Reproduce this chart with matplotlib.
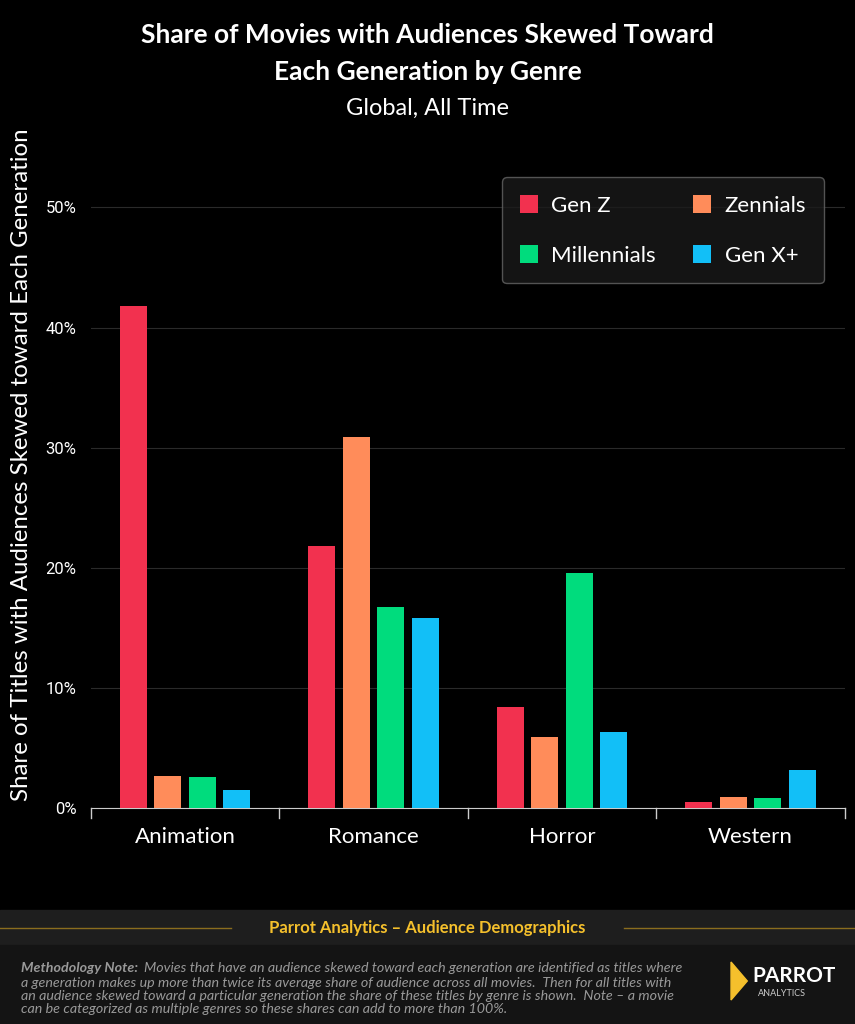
import matplotlib
matplotlib.use("Agg")
import matplotlib.pyplot as plt
import numpy as np
from matplotlib.patches import Rectangle, Polygon

genres = ["Animation", "Romance", "Horror", "Western"]
series = ["Gen Z", "Zennials", "Millennials", "Gen X+"]
gen_z = [41.8, 21.8, 8.4, 0.5]
zennials = [2.7, 30.9, 5.9, 0.9]
millennials = [2.6, 16.7, 19.6, 0.8]
gen_x = [1.5, 15.8, 6.3, 3.2]
yticks = [0, 10, 20, 30, 40, 50]
colors = ["#f2314f", "#ff8c5a", "#00dc7d", "#12bff7"]

plt.rcParams['font.family'] = ['Lato', 'DejaVu Sans']
fig = plt.figure(figsize=(8.55, 10.24), dpi=100, facecolor="black")
ax = fig.add_axes([0.106, 0.211, 0.882, 0.645], facecolor="black")
x = np.arange(len(genres))
w = 0.144
step = 0.183
handles = []
for i, (vals, c, lab) in enumerate(zip([gen_z, zennials, millennials, gen_x], colors, series)):
    handles.append(ax.bar(x + (i - 1.5) * step, vals, width=w, color=c, label=lab, zorder=3))
ax.set_xlim(-0.5, 3.5)
ax.set_ylim(0, 55)
ax.set_yticks(yticks)
ax.set_yticklabels([f"{t}%" for t in yticks], color="white", fontsize=12, family=["Roboto", "DejaVu Sans"])
ax.grid(axis="y", color="#2a2a2a", linewidth=0.8, zorder=0)
ax.set_xticks(x)
ax.set_xticklabels(genres, color="white", fontsize=16)
ax.tick_params(axis="x", length=0, pad=14)
ax.tick_params(axis="y", length=0, pad=10)
for b in [-0.5, 0.5, 1.5, 2.5, 3.5]:
    ax.plot([b, b], [0, -0.8], color="#cccccc", lw=1, clip_on=False)
for s in ["top", "right", "left"]:
    ax.spines[s].set_visible(False)
ax.spines["bottom"].set_color("#cccccc")
ax.set_ylabel("Share of Titles with Audiences Skewed toward Each Generation", color="white", fontsize=17.3)
ax.yaxis.set_label_coords(-0.078, 0.52)
order = [0, 2, 1, 3]
leg = ax.legend([handles[i] for i in order], [series[i] for i in order], ncol=2, loc="upper right",
                bbox_to_anchor=(0.987, 0.972), fontsize=16, frameon=True,
                facecolor="#1a1a1a", edgecolor="#666666", labelcolor="white", handlelength=0.8,
                handleheight=0.9, columnspacing=1.7, labelspacing=1.3, borderpad=0.8, handletextpad=0.6)

fig.text(0.5, 0.966, "Share of Movies with Audiences Skewed Toward", ha="center", va="center", color="white", fontsize=19, fontweight="bold")
fig.text(0.5, 0.930, "Each Generation by Genre", ha="center", va="center", color="white", fontsize=19, fontweight="bold")
fig.text(0.5, 0.894, "Global, All Time", ha="center", va="center", color="white", fontsize=17)

# footer
fig.patches.append(Rectangle((0, 1 - 945/1024), 1, 35/1024, transform=fig.transFigure, color="#1e1e1e"))
fig.patches.append(Rectangle((0, 0), 1, 1 - 945/1024, transform=fig.transFigure, color="#141414"))
yb = 1 - 928/1024
fig.add_artist(plt.Line2D([0, 0.27], [yb, yb], transform=fig.transFigure, color="#8a6d1e", lw=1))
fig.add_artist(plt.Line2D([0.73, 1], [yb, yb], transform=fig.transFigure, color="#8a6d1e", lw=1))
fig.text(0.5, yb, "Parrot Analytics – Audience Demographics", ha="center", va="center", color="#f5c02c", fontsize=12, fontweight="bold")
note = ("a generation makes up more than twice its average share of audience across all movies.  Then for all titles with\n"
        "an audience skewed toward a particular generation the share of these titles by genre is shown.  Note – a movie\n"
        "can be categorized as multiple genres so these shares can add to more than 100%.")
fig.text(0.025, 1 - 968/1024, "Methodology Note:", ha="left", va="center", color="#999999", fontsize=10.3, fontweight="bold", style="italic")
fig.text(0.168, 1 - 968/1024, "Movies that have an audience skewed toward each generation are identified as titles where",
         ha="left", va="center", color="#999999", fontsize=10.3, style="italic")
fig.text(0.025, 1 - 977/1024, note, ha="left", va="top", color="#999999", fontsize=10.3, style="italic", linespacing=1.1)
fig.patches.append(Polygon([[0.855, 1 - 962/1024], [0.855, 1 - 1000/1024], [0.874, 1 - 981/1024]], transform=fig.transFigure, color="#f5c02c"))
fig.text(0.880, 1 - 976/1024, "PARROT", ha="left", va="center", color="white", fontsize=15, fontweight="bold")
fig.text(0.886, 1 - 993/1024, "ANALYTICS", ha="left", va="center", color="#cccccc", fontsize=6.5)

fig.savefig("out.png", dpi=100, facecolor="black")
